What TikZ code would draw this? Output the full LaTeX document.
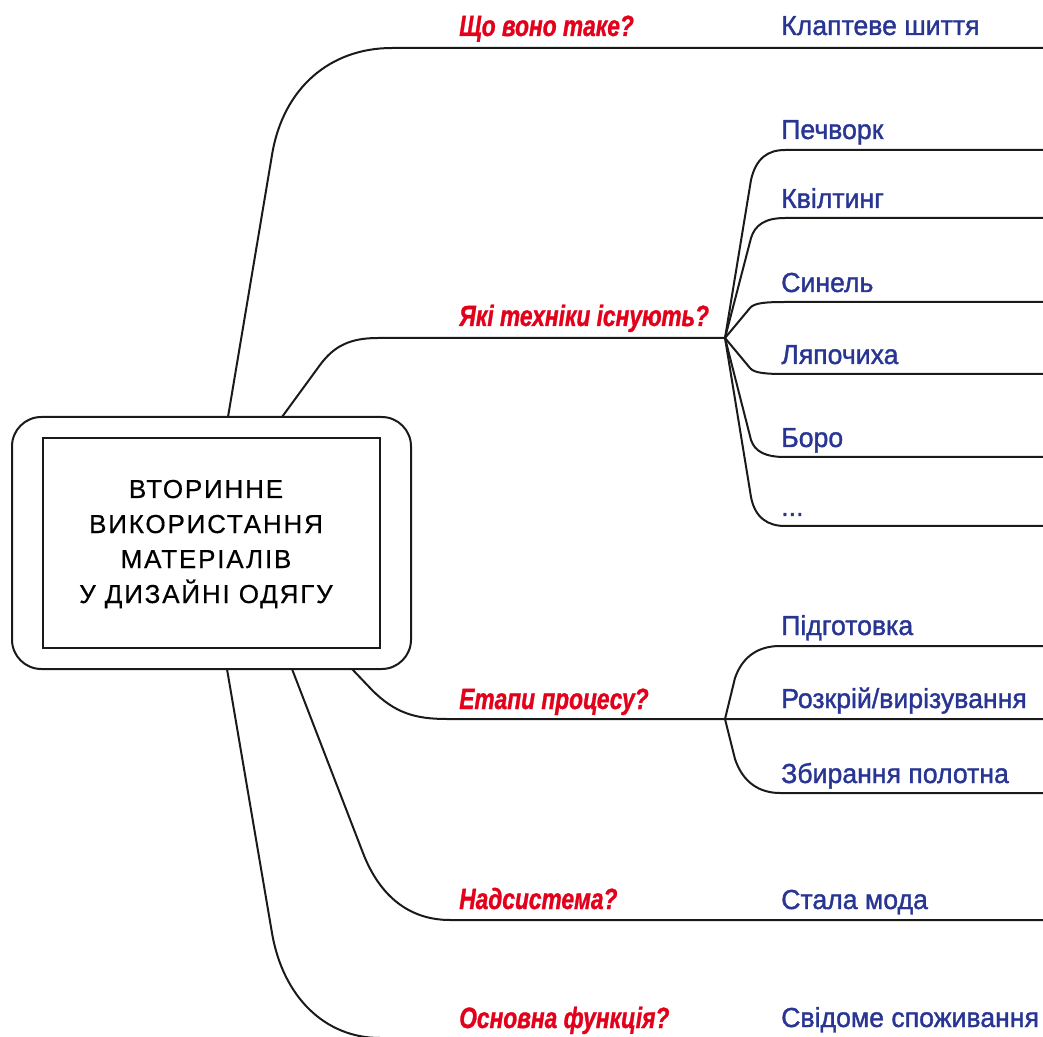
\documentclass[tikz,border=0pt]{standalone}
\usepackage{fontspec}
\setmainfont{Liberation Sans}
\newfontfamily\bluefont[FakeBold=1.3,FakeStretch=0.97]{Liberation Sans}
\newfontfamily\redfont[FakeStretch=0.775,FakeBold=1.0]{Liberation Sans}
\newfontfamily\titlefont[LetterSpace=7,FakeBold=0.5]{Liberation Sans}
\definecolor{qblue}{RGB}{40,53,147}
\definecolor{qred}{RGB}{226,0,26}
\definecolor{qline}{RGB}{26,26,26}
\begin{document}
\begin{tikzpicture}[x=0.75pt,y=-0.75pt,
  conn/.style={draw=qline,line width=1.5pt,line join=round},
  qlabel/.style={anchor=base west,inner sep=0pt,text=qred,font=\redfont\bfseries\itshape\fontsize{22pt}{25pt}\selectfont},
  alabel/.style={anchor=base west,inner sep=0pt,text=qblue,font=\bluefont\fontsize{20.6pt}{23pt}\selectfont},
  titletext/.style={anchor=base,inner sep=0pt,font=\titlefont\fontsize{19.5pt}{26pt}\selectfont},
  outerbox/.style={draw=qline,line width=1.5pt,rounded corners=22pt,minimum width=299.25pt,minimum height=189pt,inner sep=0pt},
  innerbox/.style={draw=qline,line width=2.2pt,minimum width=252.75pt,minimum height=157.5pt,inner sep=0pt}]
\useasboundingbox (0,0) rectangle (1043,1037);
\clip (0,0) rectangle (1043,1037);

% central block
\node[outerbox] (hub) at (211.5,543) {};
\node[innerbox] (title) at (211.5,543) {};
\node[titletext] (t1) at (206,498) {ВТОРИННЕ};
\node[titletext] (t2) at (206,533) {ВИКОРИСТАННЯ};
\node[titletext] (t3) at (206,568) {МАТЕРІАЛІВ};
\node[titletext] (t4) at (206,603) {У ДИЗАЙНІ ОДЯГУ};

% branch start points on the hub
\coordinate (s1) at (228,417);
\coordinate (s2) at (282,417);
\coordinate (s3) at (352,669);
\coordinate (s4) at (292,669);
\coordinate (s5) at (227,669);
% fork points
\coordinate (f1) at (725,338);
\coordinate (f2) at (725,719);
% right ends
\coordinate (e1) at (1043,48);
\coordinate (e3) at (1043,719);
\coordinate (e4) at (1043,920);
\coordinate (e5) at (1043,1038);

% main questions
\node[qlabel] (q1) at (459,36) {Що воно таке?};
\node[qlabel] (q2) at (459,326) {Які техніки існують?};
\node[qlabel] (q3) at (459,709) {Етапи процесу?};
\node[qlabel] (q4) at (459,909) {Надсистема?};
\node[qlabel] (q5) at (459,1028) {Основна функція?};

% answers
\node[alabel] (a1) at (781,35) {Клаптеве шиття};
\node[alabel] (a21) at (781,139) {Печворк};
\node[alabel] (a22) at (781,208) {Квілтинг};
\node[alabel] (a23) at (781,292) {Синель};
\node[alabel] (a24) at (781,364) {Ляпочиха};
\node[alabel] (a25) at (781,447) {Боро};
\node[alabel] (a26) at (781,516) {...};
\node[alabel] (a31) at (781,635) {Підготовка};
\node[alabel] (a32) at (781,708) {Розкрій/вирізування};
\node[alabel] (a33) at (781,783) {Збирання полотна};
\node[alabel] (a4) at (781,909) {Стала мода};
\node[alabel] (a5) at (781,1027) {Свідоме споживання};

% main branches
\draw[conn] (s1) -- (272,155) .. controls (283,88) and (330,48) .. (392,48) -- (e1);
\draw[conn] (s2) -- (320,365) .. controls (334,346) and (350,338) .. (378,338) -- (f1);
\draw[conn] (s3) -- (372,690) .. controls (395,713) and (415,719) .. (447,719) -- (f2) -- (e3);
\draw[conn] (s4) -- (363,853) .. controls (380,897) and (410,920) .. (450,920) -- (e4);
\draw[conn] (s5) -- (272,933) .. controls (283,997) and (325,1038) .. (380,1038) -- (e5);

% technique sub-branches
\draw[conn] (f1) -- (751,180) .. controls (756,158) and (768,150) .. (785,150) -- (1043,150);
\draw[conn] (f1) -- (751,238) .. controls (755,225) and (765,218) .. (785,218) -- (1043,218);
\draw[conn] (f1) -- (750,308) .. controls (754,303) and (765,302) .. (785,302) -- (1043,302);
\draw[conn] (f1) -- (750,368) .. controls (754,373) and (765,374) .. (785,374) -- (1043,374);
\draw[conn] (f1) -- (751,440) .. controls (755,452) and (766,457) .. (785,457) -- (1043,457);
\draw[conn] (f1) -- (751,497) .. controls (755,518) and (768,526) .. (785,526) -- (1043,526);

% process sub-branches
\draw[conn] (f2) -- (735,678) .. controls (743,655) and (760,646) .. (780,646) -- (1043,646);
\draw[conn] (f2) -- (735,759) .. controls (743,783) and (760,793) .. (780,793) -- (1043,793);
\end{tikzpicture}
\end{document}
